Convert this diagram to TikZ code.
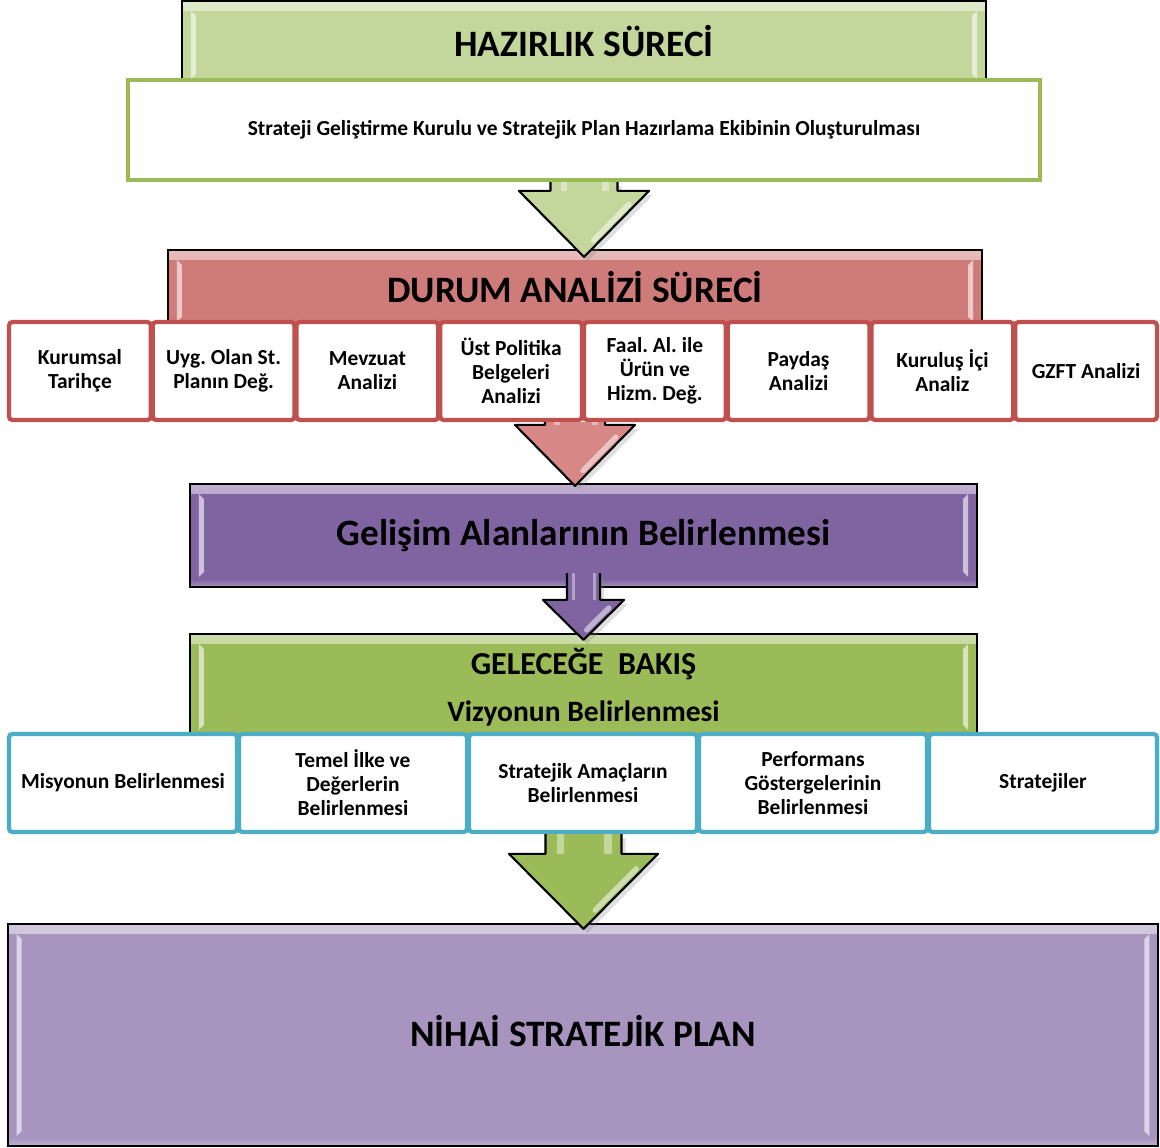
\documentclass[tikz,border=0pt]{standalone}
\usepackage{fontspec}
\setmainfont{Carlito}
\usepackage{tikz}
\usetikzlibrary{calc,shadows}
\frenchspacing

\definecolor{hazgreen}{HTML}{C3D69B}
\definecolor{olgreen}{HTML}{9BBB59}
\definecolor{durumred}{HTML}{CF7B79}
\definecolor{arrowred}{HTML}{D78886}
\definecolor{boxred}{HTML}{C0504D}
\definecolor{gelpurple}{HTML}{8064A2}
\definecolor{nihpurple}{HTML}{A794BF}
\definecolor{boxblue}{HTML}{4BACC6}

\newcommand{\boxfont}{\fontsize{6.1pt}{6.8pt}\selectfont\bfseries}
\newcommand{\barfont}{\fontsize{10.6pt}{12pt}\selectfont\bfseries}

\tikzset{
  bar/.style={draw=black, line width=0.6pt, fill=#1, inner sep=0pt, align=center,
    path picture={
      \shade[top color=white!50!#1, bottom color=#1]
        (path picture bounding box.north west) rectangle ([yshift=-0.1cm]path picture bounding box.north east);
      \shade[top color=#1, bottom color=white!30!#1]
        ([yshift=0.08cm]path picture bounding box.south west) rectangle (path picture bounding box.south east);
      \fill[white, opacity=.6]
        ([xshift=.09cm,yshift=-.1cm]path picture bounding box.north west) --
        ([xshift=.14cm,yshift=-.15cm]path picture bounding box.north west) --
        ([xshift=.14cm,yshift=.15cm]path picture bounding box.south west) --
        ([xshift=.09cm,yshift=.1cm]path picture bounding box.south west) -- cycle;
      \fill[white, opacity=.6]
        ([xshift=-.09cm,yshift=-.1cm]path picture bounding box.north east) --
        ([xshift=-.14cm,yshift=-.15cm]path picture bounding box.north east) --
        ([xshift=-.14cm,yshift=.15cm]path picture bounding box.south east) --
        ([xshift=-.09cm,yshift=.1cm]path picture bounding box.south east) -- cycle;
    }},
  redbox/.style={draw=boxred, line width=1.2pt, fill=white, rounded corners=1pt,
    minimum width=1.4175cm, minimum height=0.98cm, align=center, font=\boxfont},
  bluebox/.style={draw=boxblue, line width=1.2pt, fill=white, rounded corners=1pt,
    minimum width=2.28cm, minimum height=0.98cm, align=center, font=\boxfont},
}

% block arrow: start, tip, shaft half width, head half width, head length, colour
\newcommand{\blockarrow}[6]{%
  \path let \p1=(#1), \p2=(#2) in
    coordinate (ba-top) at (\x1,\y1)
    coordinate (ba-tip) at (\x1,\y2)
    coordinate (ba-head) at (\x1,\y2+#5);
  \fill[#6, drop shadow={opacity=.25, shadow xshift=.04cm, shadow yshift=-.04cm}]
    ([xshift=-#3]ba-top) -- ([xshift=#3]ba-top) -- ([xshift=#3]ba-head) -- ([xshift=#4]ba-head)
    -- (ba-tip) -- ([xshift=-#4]ba-head) -- ([xshift=-#3]ba-head) -- cycle;
  \fill[white, opacity=.4] ([xshift=-0.7*#3]ba-top) rectangle ([xshift=-0.5*#3]ba-head);
  \fill[white, opacity=.4] ([xshift=0.55*#3]ba-top) rectangle ([xshift=0.75*#3]ba-head);
  \draw[white, opacity=.5, line width=1.5pt, line cap=round]
    ($(ba-tip)!.8!([xshift=#4]ba-head)+(-7,0)$) -- ($(ba-tip)!.25!([xshift=#4]ba-head)+(-7,0)$);
  \draw[line width=0.6pt, line join=round]
    ([xshift=-#3]ba-top) -- ([xshift=-#3]ba-head) -- ([xshift=-#4]ba-head) -- (ba-tip)
    -- ([xshift=#4]ba-head) -- ([xshift=#3]ba-head) -- ([xshift=#3]ba-top);
}

\begin{document}
\begin{tikzpicture}[x=0.01cm, y=-0.01cm]
  \useasboundingbox (0,0) rectangle (1160,1148);

  % preparation
  \node[bar=hazgreen, minimum width=8.04cm, minimum height=0.88cm, font=\barfont] (hazirlik) at (584,45) {\raisebox{2.5pt}{HAZIRLIK SÜRECİ}};
  \node[draw=olgreen, line width=1.2pt, fill=white, minimum width=9.12cm, minimum height=1.0cm, font=\boxfont] (kurul) at (584,130)
    {Strateji Geliştirme Kurulu ve Stratejik Plan Hazırlama Ekibinin Oluşturulması};

  % situation analysis
  \node[bar=durumred, minimum width=8.14cm, minimum height=0.82cm, font=\barfont] (durum) at (575,291) {\raisebox{2.5pt}{DURUM ANALİZİ SÜRECİ}};
  \blockarrow{kurul.south}{$(durum.north)+(0,8)$}{0.335cm}{0.65cm}{0.66cm}{hazgreen}

  \node[redbox] (tarihce) at (79.9,371) {Kurumsal\\Tarihçe};
  \node[redbox] (plandeg) at (223.6,371) {Uyg. Olan St.\\Planın Değ.};
  \node[redbox] (mevzuat) at (367.4,371) {Mevzuat\\Analizi};
  \node[redbox] (politika) at (511.1,371) {Üst Politika\\Belgeleri\\Analizi};
  \node[redbox] (urun) at (654.9,371) {Faal. Al. ile\\Ürün ve\\Hizm. Değ.};
  \node[redbox] (paydas) at (798.6,371) {Paydaş\\Analizi};
  \node[redbox] (kurulus) at (942.4,371) {Kuruluş İçi\\Analiz};
  \node[redbox] (gzft) at (1086.1,371) {GZFT Analizi};

  % development areas
  \node[bar=gelpurple, minimum width=7.87cm, minimum height=1.03cm, font=\barfont] (gelisim) at (583.5,535.5) {Gelişim Alanlarının Belirlenmesi};
  \blockarrow{durum |- tarihce.south}{$(gelisim.north)+(0,3)$}{0.30cm}{0.60cm}{0.61cm}{arrowred}

  % looking ahead
  \node[bar=olgreen, minimum width=7.87cm, minimum height=1.06cm, font=\fontsize{9.1pt}{10pt}\selectfont\bfseries] (gelecek) at (583.5,687)
    {GELECEĞE~~BAKIŞ\\[3.5pt]{\fontsize{8.4pt}{9pt}\selectfont Vizyonun Belirlenmesi}};
  \blockarrow{$(gelisim.south)+(0,-15)$}{$(gelecek.north)+(0,7)$}{0.165cm}{0.405cm}{0.40cm}{gelpurple}

  \node[bluebox] (misyon) at (123,783) {Misyonun Belirlenmesi};
  \node[bluebox] (ilke) at (353,783) {Temel İlke ve\\Değerlerin\\Belirlenmesi};
  \node[bluebox] (amac) at (583,783) {Stratejik Amaçların\\Belirlenmesi};
  \node[bluebox] (gosterge) at (813,783) {Performans\\Göstergelerinin\\Belirlenmesi};
  \node[bluebox] (strateji) at (1043,783) {Stratejiler};

  % final plan
  \node[bar=nihpurple, minimum width=11.5cm, minimum height=2.22cm, font=\barfont] (nihai) at (583,1035) {\raisebox{2.5pt}{NİHAİ STRATEJİK PLAN}};
  \blockarrow{gelecek |- misyon.south}{$(nihai.north)+(0,6)$}{0.38cm}{0.745cm}{0.75cm}{olgreen}
\end{tikzpicture}
\end{document}
